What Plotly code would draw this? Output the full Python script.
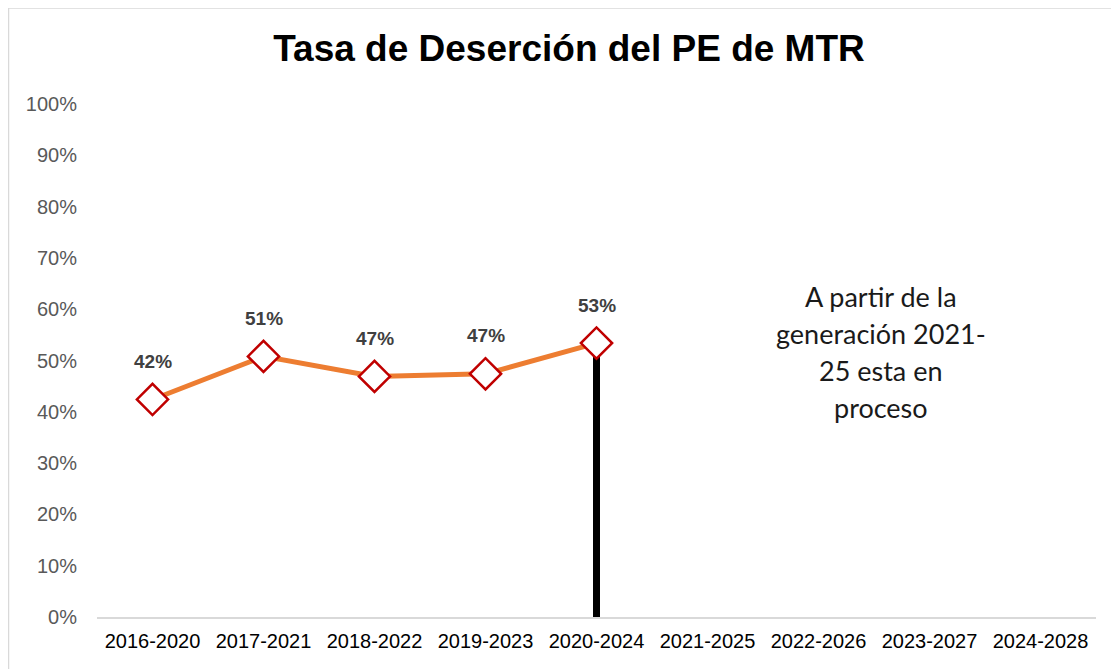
import plotly.graph_objects as go

categories = ["2016-2020", "2017-2021", "2018-2022", "2019-2023", "2020-2024",
              "2021-2025", "2022-2026", "2023-2027", "2024-2028"]
rate_cats = ["2016-2020", "2017-2021", "2018-2022", "2019-2023", "2020-2024"]
rates = [0.424, 0.508, 0.469, 0.474, 0.534]
cutoff_cat = "2020-2024"
cutoff_value = 0.534
y_ticks = [i / 10 for i in range(11)]
y_tick_labels = [f"{i*10}%" for i in range(11)]
note_lines = ["A partir de la", "generación 2021-", "25 esta en", "proceso"]
title_text = "Tasa de Deserción del PE de MTR"

# page body adds an 8px offset; figure coords = reference coords - 8
W, H = 1119, 669
L, T = 89, 96
PW = 999
R = W - L - PW
B = H - 609
PH = H - T - B

fig = go.Figure()

fig.add_trace(go.Scatter(
    x=[cutoff_cat, cutoff_cat], y=[0, cutoff_value], mode="lines",
    line=dict(color="black", width=7), hoverinfo="skip", showlegend=False))

fig.add_trace(go.Scatter(
    x=rate_cats, y=rates, mode="lines+markers",
    line=dict(color="#ED7D31", width=5),
    marker=dict(symbol="diamond", size=24, color="white",
                line=dict(color="#C00000", width=2.5)),
    showlegend=False))

for c, v in zip(rate_cats, rates):
    fig.add_annotation(x=c, y=v, text=f"<b>{round(v*100):.0f}%</b>", showarrow=False,
                       yshift=38, font=dict(family="Liberation Sans, Arial",
                                            size=19, color="#404040"))

note_x = (881 - 8 - L) / PW
note_center_px = 352 - 8  # figure px of note block center
n = len(note_lines)
for i, line in enumerate(note_lines):
    ypx = note_center_px + (i - (n - 1) / 2) * 37
    fig.add_annotation(x=note_x, xref="paper", xanchor="center",
                       y=(H - B - ypx) / PH, yref="paper", yanchor="middle",
                       text=line, showarrow=False,
                       font=dict(family="Lato, Open Sans, Liberation Sans", size=27, color="#1a1a1a"))

# outer chart border
fig.add_shape(type="rect", xref="paper", yref="paper",
              x0=(0.5 - L) / PW, x1=(W + 20 - L) / PW,
              y0=-(B + 20) / PH, y1=(H - B - 0) / PH,
              line=dict(color="#D9D9D9", width=1.5), layer="below")

fig.update_layout(
    width=W, height=H,
    margin=dict(l=L, r=R, t=T, b=B),
    paper_bgcolor="white", plot_bgcolor="white",
    title=dict(text=f"<b>{title_text}</b>", x=(569 - 8) / W, xanchor="center",
               y=1 - (48 - 8) / H, yanchor="middle",
               font=dict(family="Liberation Sans, Arial", size=37, color="black")),
    xaxis=dict(categoryorder="array", categoryarray=categories, type="category",
               range=[-0.5, len(categories) - 0.5], showgrid=False,
               showline=True, linecolor="#D9D9D9", linewidth=2, ticks="",
               tickfont=dict(family="Liberation Sans, Arial", size=20, color="black"),
               ticklabelstandoff=5, zeroline=False),
    yaxis=dict(range=[0, 1], tickvals=y_ticks, ticktext=y_tick_labels,
               showgrid=False, zeroline=False, showline=False, ticks="",
               tickfont=dict(family="Liberation Sans, Arial", size=20, color="#595959"),
               ticklabelstandoff=19),
)

fig.write_html("out.html")
